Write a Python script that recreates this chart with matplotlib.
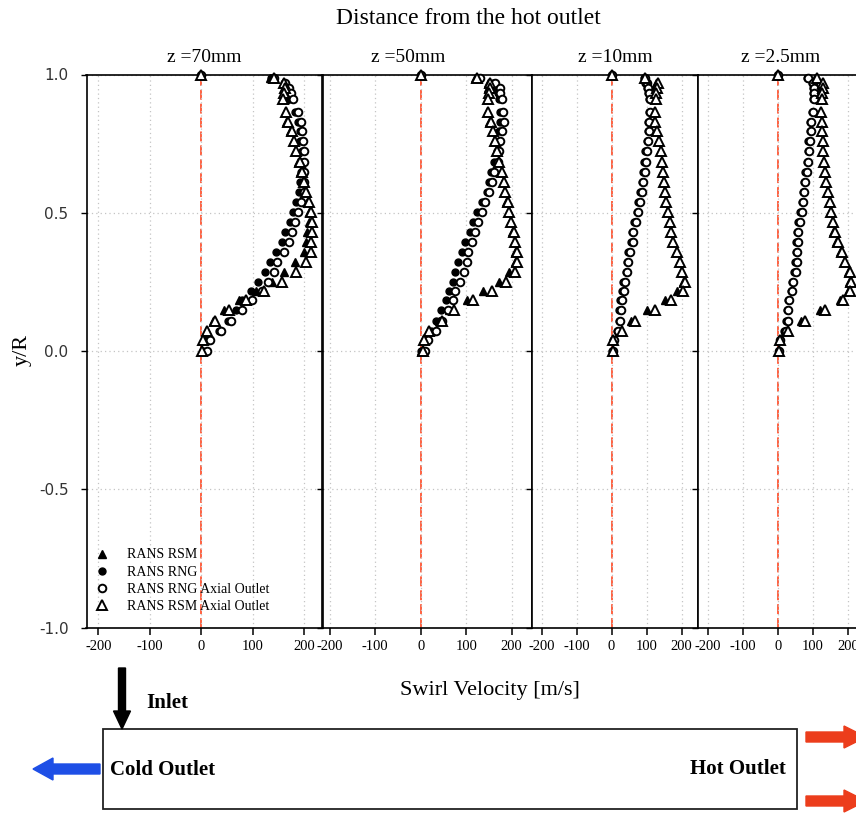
import matplotlib
matplotlib.use("Agg")
import matplotlib.pyplot as plt
from matplotlib.patches import Rectangle, FancyArrow

plt.rcParams["font.family"] = ["Liberation Serif", "DejaVu Serif"]
plt.rcParams["axes.unicode_minus"] = False

# radial stations y/R, shared by every profile
yR = [1.0, 0.987, 0.969, 0.950, 0.932, 0.911, 0.866, 0.830, 0.797, 0.761,
      0.725, 0.685, 0.649, 0.612, 0.576, 0.540, 0.504, 0.465, 0.429, 0.393,
      0.359, 0.322, 0.286, 0.250, 0.217, 0.184, 0.147, 0.109, 0.072, 0.039, 0.0]

stations = ["z =70mm", "z =50mm", "z =10mm", "z =2.5mm"]
series_labels = ["RANS RSM", "RANS RNG", "RANS RNG Axial Outlet", "RANS RSM Axial Outlet"]
xticks = [-200, -100, 0, 100, 200]
yticks = [-1.0, -0.5, 0.0, 0.5, 1.0]

# swirl velocity [m/s], z = 70 mm
rsm_70 = [0, 133, 159, 165, 165, 162, 162, 165, 171, 178, 182, 187, 192, 197, 201, 205,
          208, 208, 205, 203, 199, 181, 161, 137, 105, 72, 43, 22, 11, 4, 2]
rng_70 = [0, 135, 161, 168, 170, 171, 181, 187, 192, 192, 195, 194, 194, 192, 190, 184,
          178, 171, 162, 156, 144, 133, 124, 110, 97, 79, 67, 51, 35, 8, 4]
rng_ax_70 = [0, 140, 162, 170, 173, 178, 187, 194, 195, 197, 200, 199, 200, 200, 199, 194,
             187, 181, 176, 170, 161, 146, 140, 129, 117, 98, 78, 57, 38, 17, 11]
rsm_ax_70 = [0, 140, 161, 162, 161, 159, 164, 168, 176, 180, 184, 191, 195, 199, 203, 208,
             213, 214, 214, 213, 212, 202, 183, 156, 121, 86, 54, 27, 11, 3, 2]

# z = 50 mm
rsm_50 = [0, 120, 149, 149, 148, 145, 145, 151, 156, 161, 166, 171, 176, 180, 183, 188,
          193, 196, 200, 204, 207, 207, 193, 171, 138, 102, 62, 40, 15, 4, 1]
rng_50 = [0, 127, 159, 167, 169, 173, 175, 175, 173, 171, 167, 161, 154, 151, 145, 135,
          124, 116, 109, 98, 91, 81, 76, 71, 62, 55, 44, 33, 22, 9, 1]
rng_ax_50 = [0, 131, 164, 175, 175, 178, 180, 182, 178, 175, 173, 169, 161, 156, 151, 142,
             135, 127, 120, 113, 105, 102, 95, 87, 76, 71, 60, 47, 33, 16, 9]
rsm_ax_50 = [0, 124, 153, 153, 151, 147, 149, 154, 159, 164, 167, 173, 178, 182, 185, 191,
             195, 198, 204, 207, 211, 212, 207, 188, 156, 116, 73, 47, 18, 7, 4]

# z = 10 mm
rsm_10 = [0, 92, 128, 127, 126, 124, 122, 123, 128, 133, 138, 141, 144, 147, 150, 154,
          159, 164, 168, 174, 183, 192, 198, 205, 188, 152, 102, 57, 22, 4, 2]
rng_10 = [0, 92, 97, 101, 104, 106, 106, 104, 104, 101, 96, 94, 91, 86, 82, 77,
          72, 65, 58, 56, 48, 44, 41, 34, 31, 25, 22, 20, 15, 4, 2]
rng_ax_10 = [0, 95, 100, 105, 108, 110, 110, 108, 108, 105, 100, 98, 95, 90, 86, 81,
             76, 69, 62, 60, 52, 48, 45, 38, 35, 29, 26, 24, 19, 6, 3]
rsm_ax_10 = [0, 95, 133, 130, 128, 126, 124, 125, 131, 136, 141, 143, 146, 149, 152, 156,
             162, 167, 170, 177, 186, 195, 201, 211, 205, 171, 124, 67, 29, 5, 3]

# z = 2.5 mm
rsm_25 = [0, 106, 126, 127, 125, 123, 120, 122, 122, 125, 127, 129, 133, 134, 140, 144,
          147, 153, 158, 166, 176, 188, 199, 202, 200, 176, 120, 64, 20, 3, 2]
rng_25 = [0, 82, 96, 99, 99, 99, 96, 91, 91, 86, 84, 82, 77, 74, 70, 67,
          63, 58, 53, 52, 51, 49, 46, 39, 36, 27, 25, 23, 17, 4, 2]
rng_ax_25 = [0, 86, 100, 103, 103, 103, 100, 95, 95, 90, 88, 86, 81, 78, 74, 71,
             67, 62, 57, 56, 55, 53, 50, 43, 40, 31, 29, 27, 21, 6, 3]
rsm_ax_25 = [0, 110, 129, 129, 126, 125, 122, 124, 124, 127, 129, 131, 135, 136, 143, 147,
             150, 156, 161, 170, 181, 192, 204, 207, 206, 186, 133, 76, 29, 5, 2]

profiles = [
    [rsm_70, rng_70, rng_ax_70, rsm_ax_70],
    [rsm_50, rng_50, rng_ax_50, rsm_ax_50],
    [rsm_10, rng_10, rng_ax_10, rsm_ax_10],
    [rsm_25, rng_25, rng_ax_25, rsm_ax_25],
]

#%% layout
W, H = 856, 815
fig = plt.figure(figsize=(W / 100, H / 100), dpi=100)

# panel edges in pixels, x limits per panel
edges = [(86.5, 322.0), (322.5, 531.7), (531.7, 698.0), (698.0, 862.5)]
xlims = [(-223, 234), (-216, 244), (-228, 247), (-229, 241)]
title_x = [0.5, 0.41, 0.5, 0.5]
y_top, y_bot = 74.5, 627.5

markerStyles = [
    dict(marker="^", mfc="k", mec="k", ms=6.0, mew=1.0),
    dict(marker="o", mfc="k", mec="k", ms=5.0, mew=1.0),
    dict(marker="o", mfc="white", mec="k", ms=5.5, mew=1.4),
    dict(marker="^", mfc="white", mec="k", ms=6.5, mew=1.4),
]

axes = []
for i, (l, r) in enumerate(edges):
    ax = fig.add_axes([l / W, 1 - y_bot / H, (r - l) / W, (y_bot - y_top) / H])
    axes.append(ax)
    ax.axvline(0, color="#ff5533", ls=(0, (5.5, 2.2)), lw=1.3, zorder=1)
    for vals, lab, st in zip(profiles[i], series_labels, markerStyles):
        ax.plot(vals, yR, ls="none", label=lab, zorder=3, clip_on=False, **st)
    ax.set_xlim(*xlims[i])
    ax.set_ylim(-1, 1)
    ax.set_xticks(xticks)
    ax.set_yticks(yticks)
    ax.grid(True, ls=(0, (1, 2.5)), color="#c4c4c4", lw=0.9, zorder=0)
    ax.tick_params(axis="x", direction="out", length=5, width=1.1, pad=4,
                   labelsize=10.5)
    ax.tick_params(axis="y", direction="out", length=4, width=1.0, pad=9,
                   labelsize=11, labelcolor="#333333")
    for s in ax.spines.values():
        s.set_linewidth(1.2)
    ax.set_title(stations[i], fontsize=14, pad=9, x=title_x[i])
    if i == 0:
        ax.set_yticklabels([f"{v:.1f}" for v in yticks])
        for t in ax.get_yticklabels():
            t.set_fontfamily("DejaVu Sans")
    else:
        ax.set_yticklabels([])

leg = axes[0].legend(loc="upper left", bbox_to_anchor=(0.035, 0.143), frameon=False,
                     fontsize=10, numpoints=1, handlelength=1.0, handletextpad=1.3,
                     labelspacing=0.3, borderpad=0, borderaxespad=0)

fig.text(468 / W, 1 - 18 / H, "Distance from the hot outlet", ha="center", va="center",
         fontsize=17)
fig.text(490 / W, 1 - 690 / H, "Swirl Velocity [m/s]", ha="center", va="center",
         fontsize=16)
fig.text(22 / W, 1 - 350 / H, "y/R", ha="center", va="center", rotation=90, fontsize=16)

#%% sketch of the tube below the plot
sk = fig.add_axes([0, 0, 1, 1], zorder=5)
sk.set_xlim(0, W)
sk.set_ylim(H, 0)
sk.axis("off")
sk.patch.set_alpha(0)
sk.add_patch(Rectangle((103, 729), 694, 80, fill=False, ec="#222222", lw=1.3))
sk.add_patch(FancyArrow(122, 668, 0, 61, width=7, head_width=17, head_length=18,
                        length_includes_head=True, color="k"))
sk.add_patch(FancyArrow(100, 769, -67, 0, width=10, head_width=22, head_length=20,
                        length_includes_head=True, color="#1e4fe6"))
for yy in [737, 801]:
    sk.add_patch(FancyArrow(806, yy, 60, 0, width=10, head_width=22, head_length=22,
                            length_includes_head=True, color="#ec3d1c"))
sk.text(146, 703, "Inlet", ha="left", va="center", fontsize=15, fontweight="bold")
sk.text(110, 770, "Cold Outlet", ha="left", va="center", fontsize=15, fontweight="bold")
sk.text(786, 769, "Hot Outlet", ha="right", va="center", fontsize=15, fontweight="bold")

fig.savefig("out.png", dpi=100)
